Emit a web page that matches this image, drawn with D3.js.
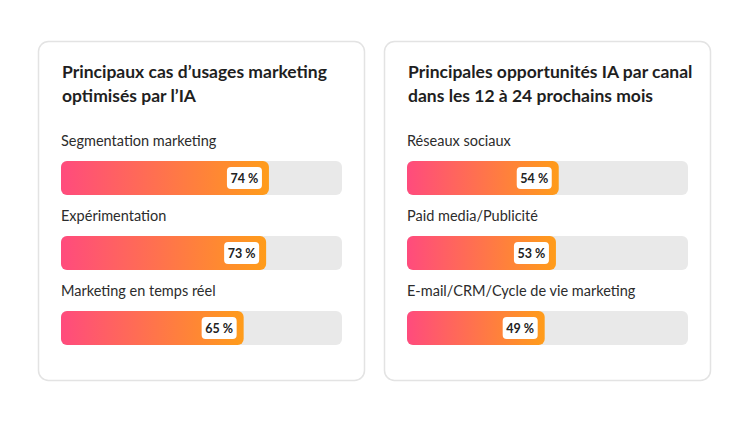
<!DOCTYPE html>
<html><head><meta charset="utf-8">
<script src="https://cdn.jsdelivr.net/npm/d3@7"></script>
<style>
body{margin:0;background:#fff;font-family:Lato,sans-serif;}
.title{font-size:17.5px;font-weight:700;fill:#1f1f1f;}
.cat{font-size:14.5px;fill:#2c2c2c;}
.val{font-size:12.5px;font-weight:700;fill:#222;}
</style></head><body>
<svg id="chart" width="750" height="422"></svg>
<script>
// data
const leftTitle = ["Principaux cas d’usages marketing", "optimisés par l’IA"];
const leftCats = ["Segmentation marketing", "Expérimentation", "Marketing en temps réel"];
const leftVals = [74, 73, 65];
const rightTitle = ["Principales opportunités IA par canal", "dans les 12 à 24 prochains mois"];
const rightCats = ["Réseaux sociaux", "Paid media/Publicité", "E-mail/CRM/Cycle de vie marketing"];
const rightVals = [54, 53, 49];

const svg = d3.select("#chart");
const defs = svg.append("defs");
const grad = defs.append("linearGradient").attr("id", "g").attr("x1", 0).attr("x2", 1);
grad.append("stop").attr("offset", 0).attr("stop-color", "#ff4b7d");
grad.append("stop").attr("offset", 1).attr("stop-color", "#ff9c1a");

function panel(x0, title, cats, vals) {
  const g = svg.append("g").attr("transform", `translate(${x0},0)`);
  g.append("rect").attr("x", 0.5).attr("y", 41.5).attr("width", 326).attr("height", 339)
    .attr("rx", 10).attr("fill", "#fff").attr("stroke", "#e3e3e3").attr("stroke-width", 1.5);
  g.selectAll(".title").data(title).join("text").attr("class", "title")
    .attr("x", 24).attr("y", (d, i) => 78 + i * 24).text(d => d);
  const x = d3.scaleLinear().domain([0, 100]).range([0, 281]);
  const y = d3.scaleBand().domain(cats).range([130, 355]);
  cats.forEach((c, i) => {
    const by = y(c) + 31;
    g.append("text").attr("class", "cat").attr("x", 23).attr("y", y(c) + 16).text(c);
    g.append("rect").attr("x", 23).attr("y", by).attr("width", x(100)).attr("height", 34)
      .attr("rx", 6).attr("fill", "#e9e9e9");
    g.append("rect").attr("x", 23).attr("y", by).attr("width", x(vals[i])).attr("height", 34)
      .attr("rx", 6).attr("fill", "url(#g)");
    const lx = 23 + x(vals[i]) - 7;
    g.append("rect").attr("x", lx - 35).attr("y", by + 6).attr("width", 35).attr("height", 22)
      .attr("rx", 4).attr("fill", "#fff");
    g.append("text").attr("class", "val").attr("x", lx - 17.5).attr("y", by + 21.5)
      .attr("text-anchor", "middle").text(vals[i] + " %");
  });
}
panel(38, leftTitle, leftCats, leftVals);
panel(384, rightTitle, rightCats, rightVals);
</script></body></html>
